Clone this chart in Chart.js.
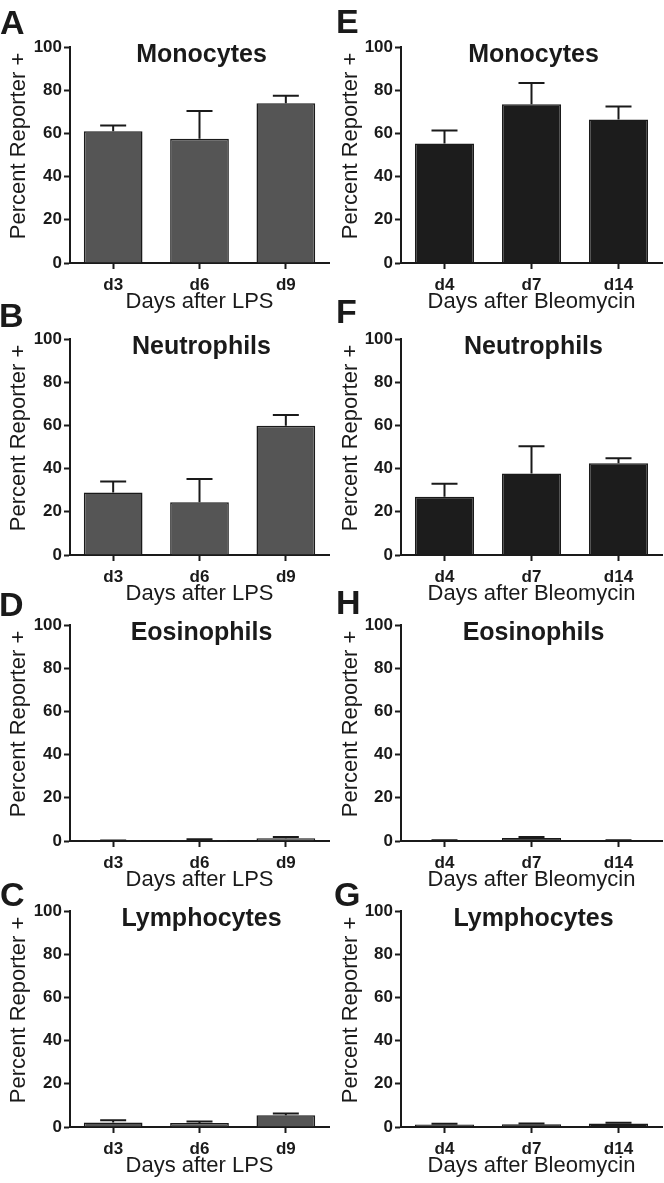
<!DOCTYPE html>
<html>
<head>
<meta charset="utf-8">
<script src="https://cdn.jsdelivr.net/npm/chart.js@4.4.0/dist/chart.umd.min.js"></script>
<style>
  body { margin: 0; background: #fff; }
  #page { position: relative; width: 664px; height: 1183px; overflow: hidden; background: #fff; }
  #page canvas { position: absolute; }
  .letter { position: absolute; font: bold 34px/34px "Liberation Sans", Arial, sans-serif; color: #1a1a1a; }
</style>
</head>
<body>
<div id="page"></div>
<script>
// categories
const lpsDays = ['d3', 'd6', 'd9'];
const bleoDays = ['d4', 'd7', 'd14'];
const yTickValues = [0, 20, 40, 60, 80, 100];

// mean percent reporter+ and SEM
const lpsMonocytes = [61, 57.5, 74];
const lpsMonocytesSem = [2.7, 12.9, 3.4];
const bleoMonocytes = [55.3, 73.5, 66.4];
const bleoMonocytesSem = [6, 9.8, 6];

const lpsNeutrophils = [28.9, 24.4, 59.8];
const lpsNeutrophilsSem = [5.1, 10.8, 5];
const bleoNeutrophils = [27, 37.7, 42.5];
const bleoNeutrophilsSem = [6, 12.7, 2.3];

const lpsEosinophils = [0.1, 0.5, 1.3];
const lpsEosinophilsSem = [0.1, 0.3, 0.6];
const bleoEosinophils = [0.3, 1.4, 0.3];
const bleoEosinophilsSem = [0.1, 0.5, 0.1];

const lpsLymphocytes = [2.1, 1.9, 5.4];
const lpsLymphocytesSem = [1.0, 0.7, 0.8];
const bleoLymphocytes = [1.2, 1.3, 1.6];
const bleoLymphocytesSem = [0.3, 0.3, 0.4];

const FONT = '"Liberation Sans", Arial, sans-serif';
const INK = '#1a1a1a';
const LPS_FILL = '#555555';
const BLEO_FILL = '#1c1c1c';

const panels = [
  { letter: 'A', title: 'Monocytes', labels: lpsDays, values: lpsMonocytes, sem: lpsMonocytesSem, xTitle: 'Days after LPS', fill: LPS_FILL, col: 0, row: 0 },
  { letter: 'E', title: 'Monocytes', labels: bleoDays, values: bleoMonocytes, sem: bleoMonocytesSem, xTitle: 'Days after Bleomycin', fill: BLEO_FILL, col: 1, row: 0 },
  { letter: 'B', title: 'Neutrophils', labels: lpsDays, values: lpsNeutrophils, sem: lpsNeutrophilsSem, xTitle: 'Days after LPS', fill: LPS_FILL, col: 0, row: 1 },
  { letter: 'F', title: 'Neutrophils', labels: bleoDays, values: bleoNeutrophils, sem: bleoNeutrophilsSem, xTitle: 'Days after Bleomycin', fill: BLEO_FILL, col: 1, row: 1 },
  { letter: 'D', title: 'Eosinophils', labels: lpsDays, values: lpsEosinophils, sem: lpsEosinophilsSem, xTitle: 'Days after LPS', fill: LPS_FILL, col: 0, row: 2 },
  { letter: 'H', title: 'Eosinophils', labels: bleoDays, values: bleoEosinophils, sem: bleoEosinophilsSem, xTitle: 'Days after Bleomycin', fill: BLEO_FILL, col: 1, row: 2 },
  { letter: 'C', title: 'Lymphocytes', labels: lpsDays, values: lpsLymphocytes, sem: lpsLymphocytesSem, xTitle: 'Days after LPS', fill: LPS_FILL, col: 0, row: 3 },
  { letter: 'G', title: 'Lymphocytes', labels: bleoDays, values: bleoLymphocytes, sem: bleoLymphocytesSem, xTitle: 'Days after Bleomycin', fill: BLEO_FILL, col: 1, row: 3 }
];

// layout
const rowTop = [47, 339, 625, 911];   // y of the 100 line in each row
const letterCapTop = [[9, 8], [302, 298], [591, 589], [881, 881]];
const letterLeft = { A: 0, B: -1, C: 0, D: -1, E: 336, F: 336, G: 334, H: 336 };
const TOP_PAD = 48, PLOT_H = 216, X_AXIS_H = 58, COL_W = 332;

// error bars, panel title inside the plot and the y title
const panelDecor = {
  id: 'panelDecor',
  afterDatasetsDraw(chart, args, opts) {
    const ctx = chart.ctx;
    const y = chart.scales.y;
    const vals = chart.data.datasets[0].data;
    ctx.save();
    ctx.strokeStyle = INK;
    ctx.lineWidth = 2;
    chart.getDatasetMeta(0).data.forEach((bar, i) => {
      const y0 = y.getPixelForValue(vals[i]);
      const y1 = y.getPixelForValue(vals[i] + opts.sem[i]);
      ctx.beginPath();
      ctx.moveTo(bar.x, y0);
      ctx.lineTo(bar.x, y1);
      ctx.moveTo(bar.x - 13, y1);
      ctx.lineTo(bar.x + 13, y1);
      ctx.stroke();
    });
    ctx.restore();
  },
  afterDraw(chart, args, opts) {
    const ctx = chart.ctx;
    const a = chart.chartArea;
    ctx.save();
    ctx.fillStyle = INK;
    ctx.textAlign = 'center';
    ctx.textBaseline = 'alphabetic';
    ctx.font = 'bold 25px ' + FONT;
    ctx.fillText(opts.title, (a.left + a.right) / 2 + 2, a.top + 15);
    ctx.translate(19, (a.top + a.bottom) / 2 - 9);
    ctx.rotate(-Math.PI / 2);
    ctx.textBaseline = 'middle';
    ctx.font = '22px ' + FONT;
    ctx.fillText('Percent Reporter +', 0, 0);
    ctx.restore();
  }
};

const page = document.getElementById('page');

panels.forEach(p => {
  const canvas = document.createElement('canvas');
  canvas.width = COL_W;
  canvas.height = TOP_PAD + PLOT_H + X_AXIS_H;
  canvas.style.left = (p.col * COL_W) + 'px';
  canvas.style.top = (rowTop[p.row] - TOP_PAD) + 'px';
  page.appendChild(canvas);

  const letter = document.createElement('div');
  letter.className = 'letter';
  letter.textContent = p.letter;
  letter.style.left = letterLeft[p.letter] + 'px';
  letter.style.top = (letterCapTop[p.row][p.col] - 4.5) + 'px';
  page.appendChild(letter);

  new Chart(canvas, {
    type: 'bar',
    data: {
      labels: p.labels,
      datasets: [{
        data: p.values,
        backgroundColor: p.fill,
        borderColor: INK,
        borderWidth: 1.5,
        barPercentage: 0.68,
        categoryPercentage: 1
      }]
    },
    options: {
      responsive: false,
      animation: false,
      layout: { padding: { top: TOP_PAD, right: p.col ? 2 : 3, bottom: 0, left: 0 } },
      plugins: {
        legend: { display: false },
        tooltip: { enabled: false },
        panelDecor: { title: p.title, sem: p.sem }
      },
      scales: {
        x: {
          grid: { drawOnChartArea: false, offset: false, tickLength: 6, tickWidth: 2, tickColor: INK },
          border: { color: INK, width: 2 },
          ticks: { color: INK, padding: 8, font: { family: FONT, size: 17, weight: 'bold', lineHeight: 1 } },
          title: {
            display: true,
            text: p.xTitle,
            color: INK,
            font: { family: FONT, size: 22, lineHeight: 1 },
            padding: { top: 0, bottom: 8 }
          },
          afterFit: s => { s.height = X_AXIS_H; }
        },
        y: {
          min: 0,
          max: 100,
          grid: { drawOnChartArea: false, tickLength: 6, tickWidth: 2, tickColor: INK },
          border: { color: INK, width: 2 },
          ticks: { color: INK, padding: 2, font: { family: FONT, size: 17, weight: 'bold' } },
          afterBuildTicks: s => { s.ticks = yTickValues.map(v => ({ value: v })); },
          afterFit: s => { s.width = p.col ? 69 : 70; }
        }
      }
    },
    plugins: [panelDecor]
  });
});
</script>
</body>
</html>
